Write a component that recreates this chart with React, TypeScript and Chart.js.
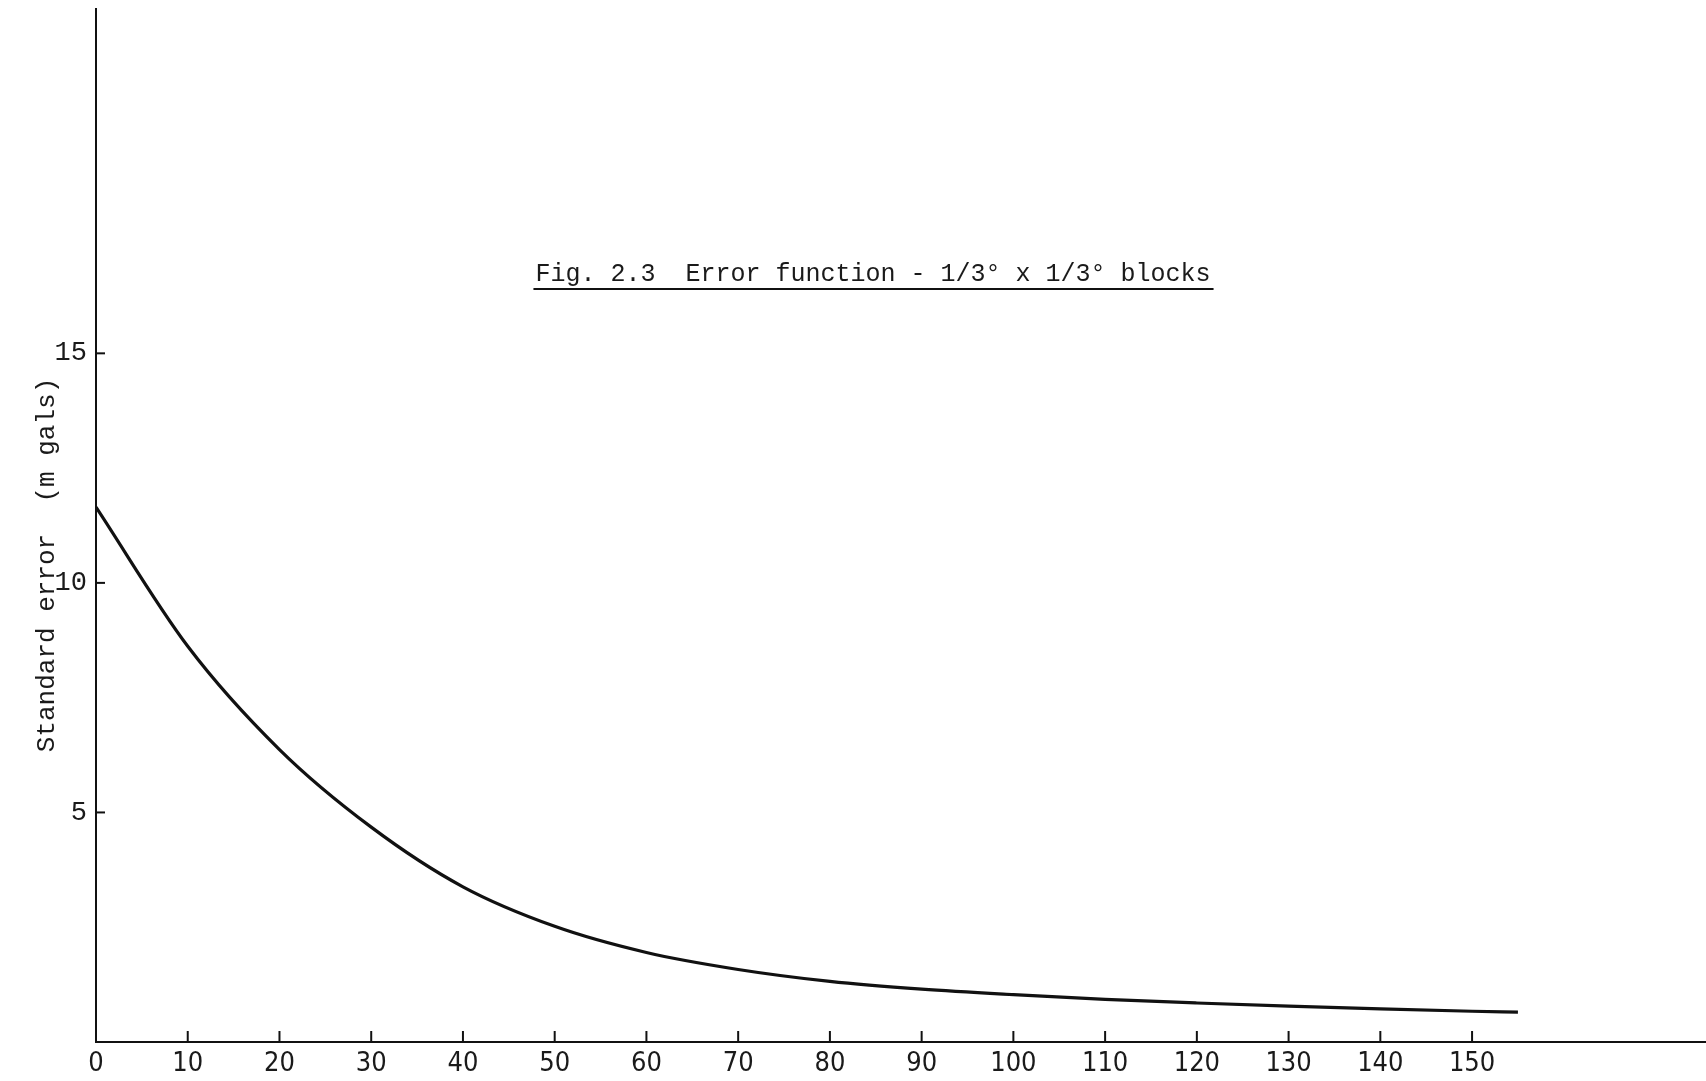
import React, { useEffect, useRef } from "react";
import { Chart, registerables } from "chart.js";

Chart.register(...registerables);

const distanceValues = [0, 10, 20, 30, 40, 50, 60, 70, 80, 90, 100, 110, 120, 130, 140, 150, 155];
const errorValues = [11.65, 8.62, 6.37, 4.68, 3.38, 2.52, 1.95, 1.58, 1.32, 1.15, 1.03, 0.93, 0.85, 0.78, 0.72, 0.67, 0.65];
const xTickValues = [0, 10, 20, 30, 40, 50, 60, 70, 80, 90, 100, 110, 120, 130, 140, 150];
const yTickValues = [5, 10, 15];
const titleText = "Fig. 2.3  Error function - 1/3\u00B0 x 1/3\u00B0 blocks";
const yTitleText = "Standard error  (m gals)";

const INK = "#111";
const MONO = "'Liberation Mono', 'DejaVu Sans Mono', monospace";

const decorPlugin = {
  id: "decor",
  afterDraw(chart: any) {
    const ctx = chart.ctx;
    const xs = chart.scales.x;
    const ys = chart.scales.y;
    const area = chart.chartArea;
    ctx.save();
    ctx.strokeStyle = INK;
    ctx.lineWidth = 2;
    // inward tick marks on x axis
    xs.ticks.forEach((t: any) => {
      if (t.value === 0) return;
      const px = xs.getPixelForValue(t.value);
      ctx.beginPath();
      ctx.moveTo(px, area.bottom);
      ctx.lineTo(px, area.bottom - 11);
      ctx.stroke();
    });
    // inward tick marks on y axis
    ys.ticks.forEach((t: any) => {
      const py = ys.getPixelForValue(t.value);
      ctx.beginPath();
      ctx.moveTo(area.left, py);
      ctx.lineTo(area.left + 9, py);
      ctx.stroke();
    });
    // title
    ctx.fillStyle = "#1a1a1a";
    ctx.font = `25px ${MONO}`;
    ctx.textAlign = "center";
    ctx.textBaseline = "middle";
    const cx = 873;
    ctx.fillText(titleText, cx, 274);
    const w = ctx.measureText(titleText).width;
    ctx.beginPath();
    ctx.lineWidth = 2;
    ctx.moveTo(cx - w / 2 - 2, 289);
    ctx.lineTo(cx + w / 2 + 3, 289);
    ctx.stroke();
    // y axis title
    ctx.translate(47, 565);
    ctx.rotate(-Math.PI / 2);
    ctx.font = `26px ${MONO}`;
    ctx.fillText(yTitleText, 0, 0);
    ctx.restore();
  },
};

export default function App() {
  const ref = useRef<HTMLCanvasElement | null>(null);
  useEffect(() => {
    if (!ref.current) return;
    const chart = new Chart(ref.current, {
      type: "line",
      data: {
        datasets: [
          {
            data: distanceValues.map((x, i) => ({ x, y: errorValues[i] })),
            borderColor: INK,
            borderWidth: 3.2,
            pointRadius: 0,
            cubicInterpolationMode: "monotone",
            fill: false,
          },
        ],
      },
      options: {
        animation: false,
        responsive: false,
        devicePixelRatio: 1,
        layout: { padding: { top: 9, left: 0, right: 0, bottom: 0 } },
        plugins: { legend: { display: false }, tooltip: { enabled: false }, title: { display: false } },
        scales: {
          x: {
            type: "linear",
            min: 0,
            max: 175.5,
            grid: { display: false, drawTicks: false },
            border: { display: true, color: INK, width: 2 },
            afterBuildTicks: (s: any) => {
              s.ticks = xTickValues.map((v) => ({ value: v }));
            },
            afterFit: (s: any) => {
              s.height = 39;
              s.paddingLeft = 0;
              s.paddingRight = 0;
            },
            ticks: {
              autoSkip: false,
              maxRotation: 0,
              padding: 6,
              color: "#1a1a1a",
              font: { family: "'DejaVu Sans Condensed', 'DejaVu Sans', sans-serif", size: 27 },
              callback: (v: any) => String(v),
            },
          },
          y: {
            type: "linear",
            min: 0,
            max: 22.5,
            grid: { display: false, drawTicks: false },
            border: { display: true, color: INK, width: 2 },
            afterBuildTicks: (s: any) => {
              s.ticks = yTickValues.map((v) => ({ value: v }));
            },
            afterFit: (s: any) => {
              s.width = 96;
              s.paddingTop = 0;
              s.paddingBottom = 0;
            },
            ticks: {
              autoSkip: false,
              padding: 9,
              color: "#1a1a1a",
              font: { family: MONO, size: 27 },
              callback: (v: any) => String(v),
            },
          },
        },
      },
      plugins: [decorPlugin],
    } as any);
    return () => chart.destroy();
  }, []);
  return (
    <div style={{ position: "fixed", left: 0, top: 0, width: 1706, height: 1081, background: "#fff" }}>
      <canvas ref={ref} width={1706} height={1081} style={{ display: "block" }} />
    </div>
  );
}
